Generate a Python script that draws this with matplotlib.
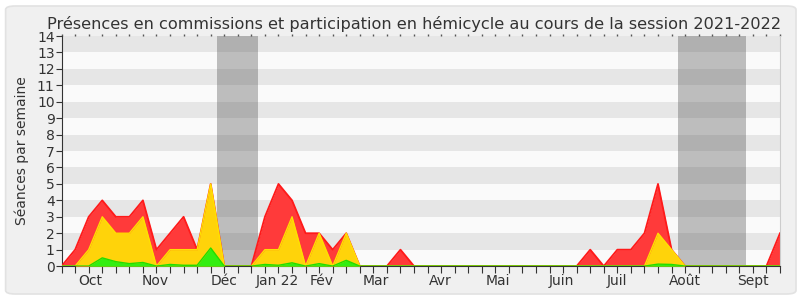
import matplotlib
matplotlib.use("Agg")
import matplotlib.pyplot as plt
import matplotlib.transforms as mtransforms
from matplotlib.patches import FancyBboxPatch
import numpy as np

# weekly values, session 2021-2022 (week index 0..53)
weeks = np.arange(54)
hemicycle = [0, 1, 3, 4, 3, 3, 4, 1, 2, 3, 1, 5, 0, 0, 0, 3, 5, 4, 2, 2, 1, 2, 0, 0, 0, 1,
             0, 0, 0, 0, 0, 0, 0, 0, 0, 0, 0, 0, 0, 1, 0, 1, 1, 2, 5, 1, 0, 0, 0, 0, 0, 0, 0, 2]
commissions = [0, 0, 1, 3, 2, 2, 3, 0, 1, 1, 1, 5, 0, 0, 0, 1, 1, 3, 0, 2, 0, 2, 0, 0, 0, 0,
               0, 0, 0, 0, 0, 0, 0, 0, 0, 0, 0, 0, 0, 0, 0, 0, 0, 0, 2, 1, 0, 0, 0, 0, 0, 0, 0, 0]
interventions = [0, 0, 0, 0.5, 0.27, 0.15, 0.22, 0, 0.1, 0.05, 0.05, 1.1, 0, 0, 0, 0.1, 0.05, 0.2,
                 0, 0.15, 0, 0.35, 0, 0, 0, 0, 0, 0, 0, 0, 0, 0, 0, 0, 0, 0, 0, 0, 0, 0, 0, 0,
                 0, 0, 0.12, 0.1, 0, 0, 0, 0, 0, 0, 0, 0]
vacances = [(11.5, 14.5), (45.5, 50.5)]
mois = ["Oct", "Nov", "Déc", "Jan 22", "Fév", "Mar", "Avr", "Mai", "Juin", "Juil", "Août", "Sept"]
mois_pos = [2.1, 6.9, 11.95, 15.9, 19.15, 23.15, 27.9, 32.2, 36.9, 41.0, 46.0, 51.0]

txt = "#333333"

fig = plt.figure(figsize=(8, 3), dpi=100)
fig.patch.set_facecolor("white")
fig.patches.append(FancyBboxPatch((0.007, 0.02), 0.988, 0.96, boxstyle="round,pad=0,rounding_size=0.012",
                                  transform=fig.transFigure, facecolor="#f0f0f0",
                                  edgecolor="#e2e2e2", linewidth=1.2, zorder=-10))

ax = fig.add_axes([0.077, 0.113, 0.898, 0.767])
ax.set_facecolor("#fafafa")

## bands + vacations
for i in range(14):
    ax.axhspan(i, i + 1, color="#e6e6e6" if i % 2 else "#fafafa", lw=0, zorder=0)
for a, b in vacances:
    ax.axvspan(a, b, color=(0.2, 0.2, 0.2), alpha=0.3, lw=0, zorder=1)

## areas
ax.fill_between(weeks, hemicycle, color="#ff3a3a", lw=0, zorder=2)
ax.plot(weeks, hemicycle, color="#ff1a1a", lw=1.3, zorder=3)
ax.fill_between(weeks, commissions, color="#ffd30a", lw=0, zorder=4)
ax.plot(weeks, commissions, color="#ffe000", lw=1.0, zorder=5)
ax.fill_between(weeks, interventions, color="#33ee11", lw=0, zorder=6)
ax.plot(weeks, interventions, color="#22dd00", lw=1.0, zorder=7)

ax.set_xlim(0, 53)
ax.set_ylim(0, 14)

ax.set_yticks(range(15))
ax.tick_params(axis="y", direction="out", length=4, color="#333333", labelsize=10, labelcolor=txt, pad=1)
ax.set_xticks(weeks)
ax.set_xticklabels([])
ax.tick_params(axis="x", which="major", direction="out", length=5, color="#333333")

# month labels under the week ticks
trans = mtransforms.blended_transform_factory(ax.transData, ax.transAxes)
for m, p in zip(mois, mois_pos):
    ax.text(p, -0.035, m, transform=trans, ha="center", va="top", fontsize=10, color=txt)

# small dots along the top
top = ax.secondary_xaxis("top")
top.set_xticks(weeks)
top.set_xticklabels([])
top.tick_params(length=1.5, width=1, color="#555555")
top.spines["top"].set_visible(False)

ax.spines["top"].set_visible(False)
ax.spines["right"].set_color("#cccccc")
ax.spines["left"].set_color("#333333")
ax.spines["bottom"].set_color("#333333")

ax.set_ylabel("Séances par semaine", fontsize=10, color=txt, labelpad=6)
ax.set_title("Présences en commissions et participation en hémicycle au cours de la session 2021-2022",
             fontsize=11.6, color=txt, pad=5, x=0.49)

fig.savefig("out.png", dpi=100)
